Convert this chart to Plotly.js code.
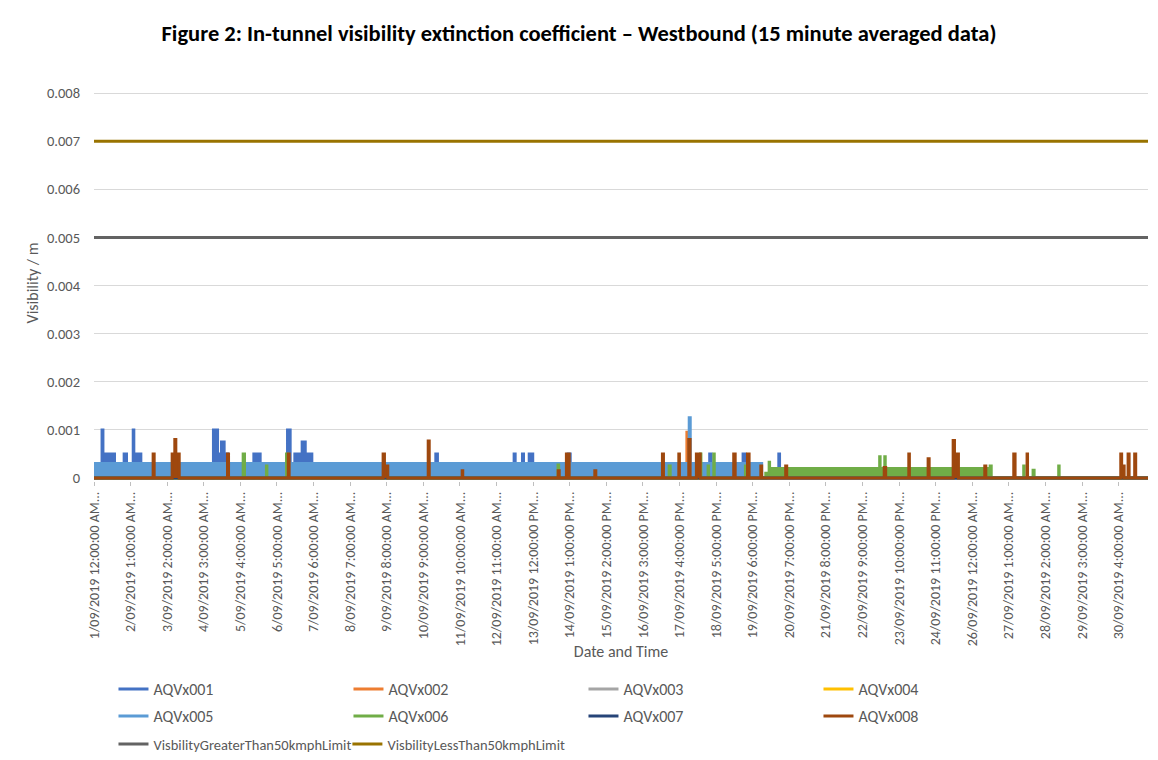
<!DOCTYPE html>
<html><head><meta charset="utf-8">
<script src="https://cdn.plot.ly/plotly-3.0.1.min.js"></script>
<style>html,body{margin:0;padding:0;background:#fff}#chart{width:1158px;height:760px}</style>
</head><body><div id="chart"></div>
<script>
// Time in hours since 1/09/2019 12:00:00 AM (15-minute averaged data), values in 1/m
var aqv001_t = [0, 5.5, 6.1, 14.0, 20.6, 22.2, 26.8, 27.2, 32.0, 81.6, 84.4, 87.1, 88.9, 91.2, 109.2, 113.5, 132.2, 134.0, 137.2, 142.2, 144.3, 148.8, 233.5, 234.6, 287.0, 287.7, 292.7, 293.4, 297.3, 299.7, 323.9, 325.3, 420.6, 421.6, 443.4, 444.8, 467.8, 468.3, 720];
var aqv001_v = [0, 0.001, 0.0005, 0, 0.0005, 0, 0.001, 0.0005, 0, 0.001, 0.0005, 0.00075, 0.0005, 0, 0.0005, 0, 0.001, 0, 0.0005, 0.00075, 0.0005, 0, 0.0005, 0, 0.0005, 0, 0.0005, 0, 0.0005, 0, 0.0005, 0, 0.0005, 0, 0.0005, 0, 0.0005, 0, 0];
var aqv002_t = [0, 405.0, 405.6, 720];
var aqv002_v = [0, 0.00095, 0, 0];
var aqv003_t = [0, 720];
var aqv003_v = [0, 0];
var aqv004_t = [0, 720];
var aqv004_v = [0, 0];
var aqv005_t = [0, 406.6, 407.3, 456.1, 720];
var aqv005_v = [0.0003, 0.00125, 0.0003, 0, 0];
var aqv006_t = [0, 101.9, 102.8, 117.8, 118.1, 131.5, 132.3, 317.0, 317.4, 392.9, 393.6, 414.3, 414.6, 419.5, 419.8, 423.4, 423.7, 445.0, 445.3, 458.9, 461.2, 461.5, 536.7, 537.0, 540.2, 540.5, 612.2, 612.9, 635.1, 635.4, 641.5, 642.2, 659.0, 659.3, 720];
var aqv006_v = [0, 0.0005, 0, 0.00025, 0, 0.0005, 0, 0.00027, 0, 0.00025, 0, 0.0005, 0, 0.00025, 0, 0.0005, 0, 0.00025, 0, 0.0001, 0.00033, 0.0002, 0.00044, 0.0002, 0.00044, 0.0002, 0.00025, 0, 0.00025, 0, 0.00016, 0, 0.00025, 0, 0];
var aqv007_t = [0, 720];
var aqv007_v = [0, 0];
var aqv008_t = [0, 40.4, 41.1, 53.4, 55.2, 55.9, 58.2, 91.2, 91.9, 132.7, 133.3, 197.5, 198.4, 200.7, 228.3, 229.0, 251.5, 251.9, 317.1, 317.8, 322.7, 324.6, 342.1, 342.8, 388.3, 389.0, 399.5, 399.9, 406.3, 407.2, 411.5, 414.1, 437.0, 438.0, 446.4, 447.5, 455.5, 456.1, 472.5, 473.2, 539.8, 540.8, 556.6, 557.0, 569.8, 570.5, 586.9, 587.8, 590.5, 608.5, 609.2, 628.3, 629.2, 637.4, 637.7, 701.4, 702.0, 703.7, 706.4, 707.1, 710.9, 711.6, 720];
var aqv008_v = [0, 0.0005, 0, 0.0005, 0.0008, 0.0005, 0, 0.0005, 0, 0.0005, 0, 0.0005, 0.00025, 0, 0.00077, 0, 0.00015, 0, 0.00015, 0, 0.0005, 0, 0.00015, 0, 0.0005, 0, 0.0005, 0, 0.0008, 0, 0.0005, 0, 0.0005, 0, 0.0005, 0, 0.00025, 0, 0.00025, 0, 0.00022, 0, 0.0005, 0, 0.0004, 0, 0.00078, 0.0005, 0, 0.00025, 0, 0.0005, 0, 0.0005, 0, 0.0005, 0.00025, 0, 0.0005, 0, 0.0005, 0, 0];
var limit_t = [0, 720];
var limitGreaterThan50_v = [0.005, 0.005];
var limitLessThan50_v = [0.007, 0.007];

var seriesNames = ["AQVx001", "AQVx002", "AQVx003", "AQVx004", "AQVx005", "AQVx006", "AQVx007", "AQVx008"];
var limitNames = ["VisbilityGreaterThan50kmphLimit", "VisbilityLessThan50kmphLimit"];

var tickHours = [0, 25, 50, 75, 100, 125, 150, 175, 200, 225, 250, 275, 300, 325, 350, 375, 400, 425, 450, 475, 500, 525, 550, 575, 600, 625, 650, 675, 700];
var tickLabels = ["1/09/2019 12:00:00 AM...", "2/09/2019 1:00:00 AM...", "3/09/2019 2:00:00 AM...", "4/09/2019 3:00:00 AM...", "5/09/2019 4:00:00 AM...", "6/09/2019 5:00:00 AM...", "7/09/2019 6:00:00 AM...", "8/09/2019 7:00:00 AM...", "9/09/2019 8:00:00 AM...", "10/09/2019 9:00:00 AM...", "11/09/2019 10:00:00 AM...", "12/09/2019 11:00:00 AM...", "13/09/2019 12:00:00 PM...", "14/09/2019 1:00:00 PM...", "15/09/2019 2:00:00 PM...", "16/09/2019 3:00:00 PM...", "17/09/2019 4:00:00 PM...", "18/09/2019 5:00:00 PM...", "19/09/2019 6:00:00 PM...", "20/09/2019 7:00:00 PM...", "21/09/2019 8:00:00 PM...", "22/09/2019 9:00:00 PM...", "23/09/2019 10:00:00 PM...", "24/09/2019 11:00:00 PM...", "26/09/2019 12:00:00 AM...", "27/09/2019 1:00:00 AM...", "28/09/2019 2:00:00 AM...", "29/09/2019 3:00:00 AM...", "30/09/2019 4:00:00 AM..."];
var yTickVals = [0, 0.001, 0.002, 0.003, 0.004, 0.005, 0.006, 0.007, 0.008];
var yTickText = ["0", "0.001", "0.002", "0.003", "0.004", "0.005", "0.006", "0.007", "0.008"];

var seriesT = [aqv001_t, aqv002_t, aqv003_t, aqv004_t, aqv005_t, aqv006_t, aqv007_t, aqv008_t];
var seriesV = [aqv001_v, aqv002_v, aqv003_v, aqv004_v, aqv005_v, aqv006_v, aqv007_v, aqv008_v];
var colors = ["#4472C4", "#ED7D31", "#A5A5A5", "#FFC000", "#5B9BD5", "#70AD47", "#264478", "#9E480E"];
var limitColors = ["#636363", "#997300"];
var legendIds = ["legend", "legend", "legend", "legend", "legend2", "legend2", "legend2", "legend2"];
var limitLegendIds = ["legend3", "legend4"];

var FONT = "Calibri, Carlito, 'Liberation Sans', Arial, sans-serif";
var traces = [];
for (var i = 0; i < seriesNames.length; i++) {
  traces.push({
    type: "scatter", mode: "lines", x: seriesT[i], y: seriesV[i], name: seriesNames[i],
    line: {color: colors[i], width: 3, shape: "hv"}, fill: "tozeroy", fillcolor: colors[i],
    showlegend: false, legendgroup: seriesNames[i], hoverinfo: "skip"
  });
}
traces.push({type: "scatter", mode: "lines", x: limit_t, y: limitGreaterThan50_v, name: limitNames[0],
  line: {color: limitColors[0], width: 3}, showlegend: false, legendgroup: limitNames[0]});
traces.push({type: "scatter", mode: "lines", x: limit_t, y: limitLessThan50_v, name: limitNames[1],
  line: {color: limitColors[1], width: 3}, showlegend: false, legendgroup: limitNames[1]});
// legend entries (line keys like the original)
for (var j = 0; j < seriesNames.length; j++) {
  traces.push({type: "scatter", mode: "lines", x: [null], y: [null], name: seriesNames[j],
    line: {color: colors[j], width: 3}, legend: legendIds[j], legendgroup: seriesNames[j]});
}
for (var k = 0; k < limitNames.length; k++) {
  traces.push({type: "scatter", mode: "lines", x: [null], y: [null], name: limitNames[k],
    line: {color: limitColors[k], width: 3}, legend: limitLegendIds[k], legendgroup: limitNames[k]});
}

function legendCfg(x, y, size, ew) {
  var cfg = {orientation: "h", xref: "container", yref: "container", x: x, y: y, xanchor: "left", yanchor: "middle",
    font: {family: FONT, size: size, color: "#595959"},
    bgcolor: "rgba(0,0,0,0)", itemwidth: 30, traceorder: "normal"};
  if (ew) { cfg.entrywidth = ew; cfg.entrywidthmode = "pixels"; }
  return cfg;
}

var layout = {
  width: 1158, height: 760,
  margin: {l: 94, r: 10, t: 85, b: 279},
  paper_bgcolor: "#ffffff", plot_bgcolor: "#ffffff",
  font: {family: FONT, color: "#595959"},
  title: {text: "<b>Figure 2: In-tunnel visibility extinction coefficient \u2013 Westbound (15 minute averaged data)</b>",
    font: {family: FONT, size: 22.5, color: "#000000"}, x: 0.5, xref: "container", y: 0.957, yref: "container", yanchor: "middle"},
  xaxis: {range: [0, 720], tickvals: tickHours, ticktext: tickLabels, tickangle: -90,
    tickfont: {family: FONT, size: 14, color: "#595959"}, ticks: "outside", ticklen: 4, tickcolor: "#bfbfbf",
    showgrid: false, zeroline: false, showline: false, fixedrange: true,
    title: {text: "Date and Time", font: {family: FONT, size: 16, color: "#595959"}, standoff: 0}},
  yaxis: {range: [-0.0000623, 0.00817], tickvals: yTickVals, ticktext: yTickText,
    tickfont: {family: FONT, size: 14.5, color: "#595959"}, ticks: "", ticklabelstandoff: 13,
    showgrid: true, gridcolor: "#d9d9d9", gridwidth: 1, zeroline: false, showline: false, fixedrange: true,
    title: {text: "Visibility / m", font: {family: FONT, size: 16, color: "#595959"}, standoff: 4}},
  legend: legendCfg(0.098, 0.0934, 16, 190),
  legend2: legendCfg(0.098, 0.0579, 16, 190),
  legend3: legendCfg(0.098, 0.0211, 14.5, 0),
  legend4: legendCfg(0.300, 0.0211, 14.5, 0),
  showlegend: true
};
Plotly.newPlot("chart", traces, layout, {displayModeBar: false, staticPlot: true});
</script></body></html>
